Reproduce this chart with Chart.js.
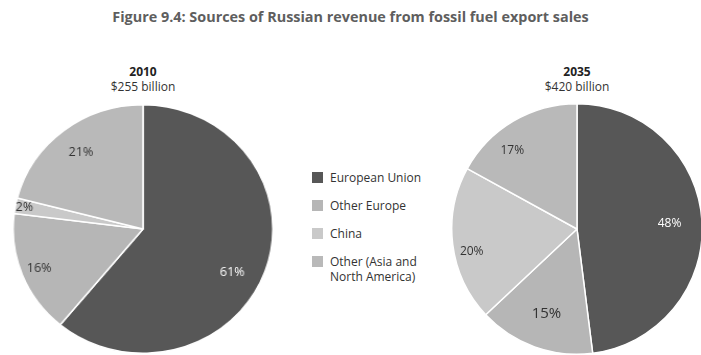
<!DOCTYPE html>
<html lang="en">
<head>
    <meta charset="UTF-8">
    <title>Sources of Russian revenue from fossil fuel export sales</title>
    <script src="https://cdn.jsdelivr.net/npm/chart.js"></script>
    <style>
        html, body {
            margin: 0;
            padding: 0;
            width: 701px;
            height: 355px;
            overflow: hidden;
            background: #fff;
            font-family: 'Open Sans', sans-serif;
        }
        .title {
            position: absolute;
            left: 0;
            width: 701px;
            top: 7px;
            text-align: center;
            font-size: 14.4px;
            font-weight: bold;
            color: #5e5e5e;
        }
        .head {
            position: absolute;
            width: 160px;
            text-align: center;
            font-size: 12px;
            line-height: 15px;
            color: #333;
        }
        .head b { color: #222; }
        .pie {
            position: absolute;
        }
        #pie2010 {
            transform: scaleX(1.045);
            transform-origin: center;
        }
        .legend {
            position: absolute;
            left: 312px;
            top: 170px;
            font-size: 12px;
            color: #333;
        }
        .legend-row {
            position: relative;
            padding-left: 18px;
            line-height: 15px;
            margin-bottom: 13px;
        }
        .legend-row span {
            position: absolute;
            left: 0;
            top: 2px;
            width: 11px;
            height: 11px;
        }
    </style>
</head>
<body>
    <div class="title">Figure 9.4: Sources of Russian revenue from fossil fuel export sales</div>

    <div class="head" style="left:63px; top:64px;"><b>2010</b><br>$255 billion</div>
    <div class="head" style="left:497px; top:64px;"><b>2035</b><br>$420 billion</div>

    <canvas id="pie2010" class="pie" width="250" height="250" style="left:18px; top:104px; width:250px; height:250px;"></canvas>
    <canvas id="pie2035" class="pie" width="252" height="252" style="left:451px; top:103px; width:252px; height:252px;"></canvas>

    <div class="legend" id="legend"></div>

    <script>
        const regions = ['European Union', 'Other Europe', 'China', 'Other (Asia and North America)'];
        const legendLines = [['European Union'], ['Other Europe'], ['China'], ['Other (Asia and', 'North America)']];
        const share2010 = [61, 16, 2, 21];
        const share2035 = [48, 15, 20, 17];
        const sliceColors = ['#575757', '#b6b6b6', '#c9c9c9', '#b9b9b9'];

        // label placement per slice: distance from centre (fraction of radius),
        // turn away from the slice middle (degrees), font size
        const labelDist2010 = [0.77, 0.86, 0.93, 0.78];
        const labelTurn2010 = [7, 0, 0, 0];
        const labelSize2010 = [12, 12, 12, 12];
        const labelDist2035 = [0.74, 0.72, 0.86, 0.81];
        const labelTurn2035 = [0, 0, -5, -9];
        const labelSize2035 = [12, 15, 12, 12];
        const labelColors = ['#ffffff', '#333333', '#333333', '#333333'];

        const sliceLabels = {
            id: 'sliceLabels',
            afterDatasetsDraw(chart, args, opts) {
                const ctx = chart.ctx;
                const meta = chart.getDatasetMeta(0);
                const values = chart.data.datasets[0].data;
                ctx.save();
                ctx.textAlign = 'center';
                ctx.textBaseline = 'middle';
                meta.data.forEach((arc, i) => {
                    const p = arc.getProps(['x', 'y', 'startAngle', 'endAngle', 'outerRadius'], true);
                    const mid = (p.startAngle + p.endAngle) / 2 + opts.turn[i] * Math.PI / 180;
                    const r = p.outerRadius * opts.dist[i];
                    ctx.font = opts.size[i] + 'px "Open Sans", sans-serif';
                    ctx.fillStyle = labelColors[i];
                    ctx.fillText(values[i] + '%', p.x + Math.cos(mid) * r, p.y + Math.sin(mid) * r);
                });
                ctx.restore();
            }
        };

        function makePie(id, values, dist, turn, size) {
            return new Chart(document.getElementById(id), {
                type: 'pie',
                data: {
                    labels: regions,
                    datasets: [{
                        data: values,
                        backgroundColor: sliceColors,
                        borderColor: '#ffffff',
                        borderWidth: 1.5
                    }]
                },
                options: {
                    responsive: false,
                    animation: false,
                    events: [],
                    layout: { padding: 0 },
                    plugins: {
                        legend: { display: false },
                        tooltip: { enabled: false },
                        sliceLabels: { dist: dist, turn: turn, size: size }
                    }
                },
                plugins: [sliceLabels]
            });
        }

        makePie('pie2010', share2010, labelDist2010, labelTurn2010, labelSize2010);
        makePie('pie2035', share2035, labelDist2035, labelTurn2035, labelSize2035);

        // legend in the middle
        const legend = document.getElementById('legend');
        legendLines.forEach((lines, i) => {
            const row = document.createElement('div');
            row.className = 'legend-row';
            row.innerHTML = '<span style="background:' + sliceColors[i] + '"></span>' + lines.join('<br>');
            legend.appendChild(row);
        });
    </script>
</body>
</html>
